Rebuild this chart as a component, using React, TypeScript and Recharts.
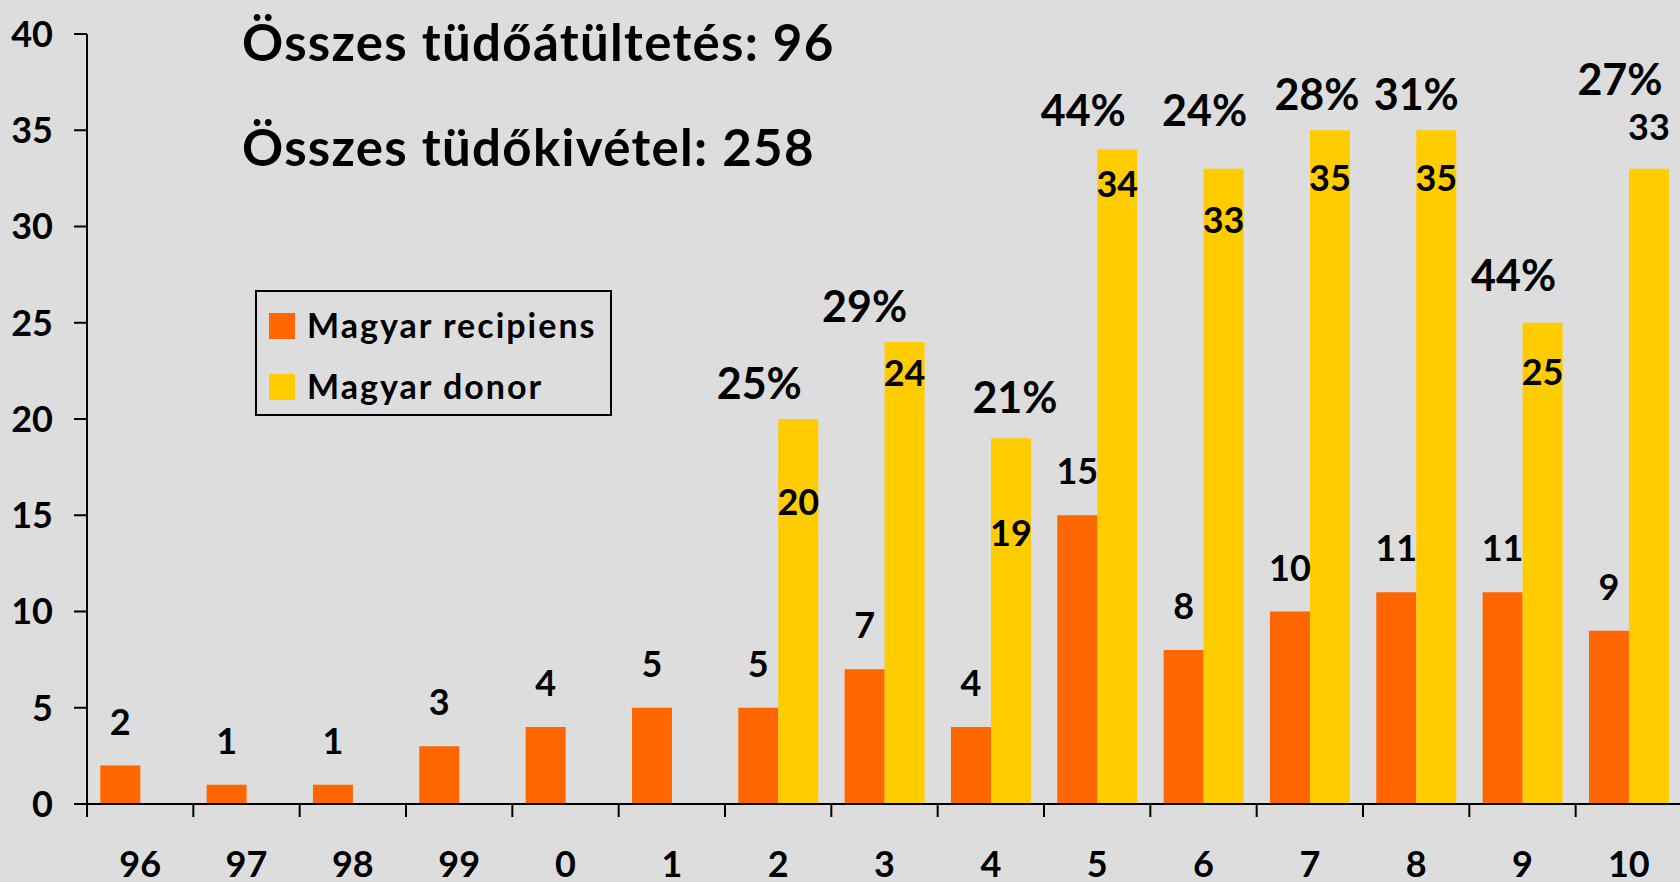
import { BarChart, Bar, XAxis, YAxis, LabelList } from 'recharts';

const years = ['96', '97', '98', '99', '0', '1', '2', '3', '4', '5', '6', '7', '8', '9', '10'];
const recipients = [2, 1, 1, 3, 4, 5, 5, 7, 4, 15, 8, 10, 11, 11, 9];
const donors = [null, null, null, null, null, null, 20, 24, 19, 34, 33, 35, 35, 25, 33];
const ratios = [null, null, null, null, null, null, '25%', '29%', '21%', '44%', '24%', '28%', '31%', '44%', '27%'];
const yTicks = [0, 5, 10, 15, 20, 25, 30, 35, 40];
const seriesNames = ['Magyar recipiens', 'Magyar donor'];

// label nudges per category (layout only, the original labels were placed by hand)
const donorLabelDy = [0, 0, 0, 0, 0, 0, 83, 31, 95, 34, 51, 48, 48, 49, -42];
const ratioDx = [0, 0, 0, 0, 0, 0, -39, -40, 4, -34, -19, -13, -20, -29, -29];
const ratioDy = [0, 0, 0, 0, 0, 0, -35, -35, -40, -39, -58, -35, -35, -47, -89];

const data = years.map((y, i) => ({
  year: y,
  recipient: recipients[i],
  donor: donors[i],
  ratio: ratios[i],
}));

const FONT = 'Lato, "Open Sans", sans-serif';
const ORANGE = '#FF6600';
const YELLOW = '#FFCC00';
const BG = '#DDDDDD';

const W = 1690;
const H = 882;
const PLOT_LEFT = 87;
const PLOT_RIGHT = W - 8;
const BAND = (PLOT_RIGHT - PLOT_LEFT) / years.length;

// which category a bar belongs to (LabelList index skips empty bars)
const catOf = (x: number) => Math.max(0, Math.min(years.length - 1, Math.floor((x - PLOT_LEFT) / BAND)));

const XTick = (props: any) => {
  const { x, y, payload } = props;
  return (
    <g>
      <line x1={x - BAND / 2} x2={x - BAND / 2} y1={y} y2={y + 13} stroke="#000" strokeWidth={2} />
      <text x={x} y={y + 73} textAnchor="middle" fill="#000" fontSize={36} fontWeight={700} fontFamily={FONT}>
        {payload.value}
      </text>
    </g>
  );
};

const RecipientLabel = (props: any) => {
  const { x, y, width, value } = props;
  if (value == null) return null;
  return (
    <text x={x + width / 2} y={y - 31} textAnchor="middle" fill="#000" fontSize={36} fontWeight={700} fontFamily={FONT}>
      {value}
    </text>
  );
};

const DonorLabel = (props: any) => {
  const { x, y, width, value } = props;
  if (value == null || isNaN(y)) return null;
  const c = catOf(x);
  return (
    <text x={x + width / 2} y={y + donorLabelDy[c] + 13} textAnchor="middle" fill="#000" fontSize={36} fontWeight={700} fontFamily={FONT}>
      {value}
    </text>
  );
};

const RatioLabel = (props: any) => {
  const { x, y, width, value } = props;
  if (value == null || isNaN(y)) return null;
  const c = catOf(x);
  return (
    <text x={x + width / 2 + ratioDx[c]} y={y + ratioDy[c] + 15} textAnchor="middle" fill="#000" fontSize={43} fontWeight={700} fontFamily={FONT}>
      {value}
    </text>
  );
};

export default function App() {
  return (
    <div style={{ position: 'absolute', left: 0, top: 0, width: 1680, height: 882, overflow: 'hidden', background: BG }}>
      <BarChart width={W} height={H} data={data} margin={{ top: 34, right: 8, bottom: 0, left: 0 }} barCategoryGap="12.5%" barGap={0}>
        <XAxis
          dataKey="year"
          interval={0}
          height={78}
          tickLine={false}
          tickSize={0}
          tickMargin={0}
          axisLine={{ stroke: '#000', strokeWidth: 2 }}
          tick={<XTick />}
        />
        <YAxis
          domain={[0, 40]}
          ticks={yTicks}
          width={87}
          tickSize={13}
          tickMargin={21}
          axisLine={{ stroke: '#000', strokeWidth: 2 }}
          tickLine={{ stroke: '#000', strokeWidth: 2 }}
          tick={{ fill: '#000', fontSize: 36, fontWeight: 700, fontFamily: FONT }}
        />
        <Bar dataKey="recipient" name={seriesNames[0]} fill={ORANGE} isAnimationActive={false}>
          <LabelList dataKey="recipient" content={<RecipientLabel />} />
        </Bar>
        <Bar dataKey="donor" name={seriesNames[1]} fill={YELLOW} isAnimationActive={false}>
          <LabelList dataKey="donor" content={<DonorLabel />} />
          <LabelList dataKey="ratio" content={<RatioLabel />} />
        </Bar>
      </BarChart>
      {/* titles */}
      <svg width={1680} height={200} style={{ position: 'absolute', left: 0, top: 0, pointerEvents: 'none' }}>
        <text x={242} y={61} fill="#000" fontSize={51} fontWeight={700} fontFamily={FONT} letterSpacing={1.3}>Összes tüdőátültetés: 96</text>
        <text x={242} y={166} fill="#000" fontSize={51} fontWeight={700} fontFamily={FONT} letterSpacing={1.3}>Összes tüdőkivétel: 258</text>
      </svg>
      {/* legend */}
      <svg width={357} height={126} style={{ position: 'absolute', left: 255, top: 290 }}>
        <rect x={1} y={1} width={355} height={124} fill="none" stroke="#000" strokeWidth={2} />
        <rect x={14} y={23} width={26} height={26} fill={ORANGE} />
        <text x={52} y={48} fill="#000" fontSize={34} fontWeight={700} fontFamily={FONT} letterSpacing={2}>{seriesNames[0]}</text>
        <rect x={14} y={84} width={26} height={26} fill={YELLOW} />
        <text x={52} y={109} fill="#000" fontSize={34} fontWeight={700} fontFamily={FONT} letterSpacing={2}>{seriesNames[1]}</text>
      </svg>
    </div>
  );
}
